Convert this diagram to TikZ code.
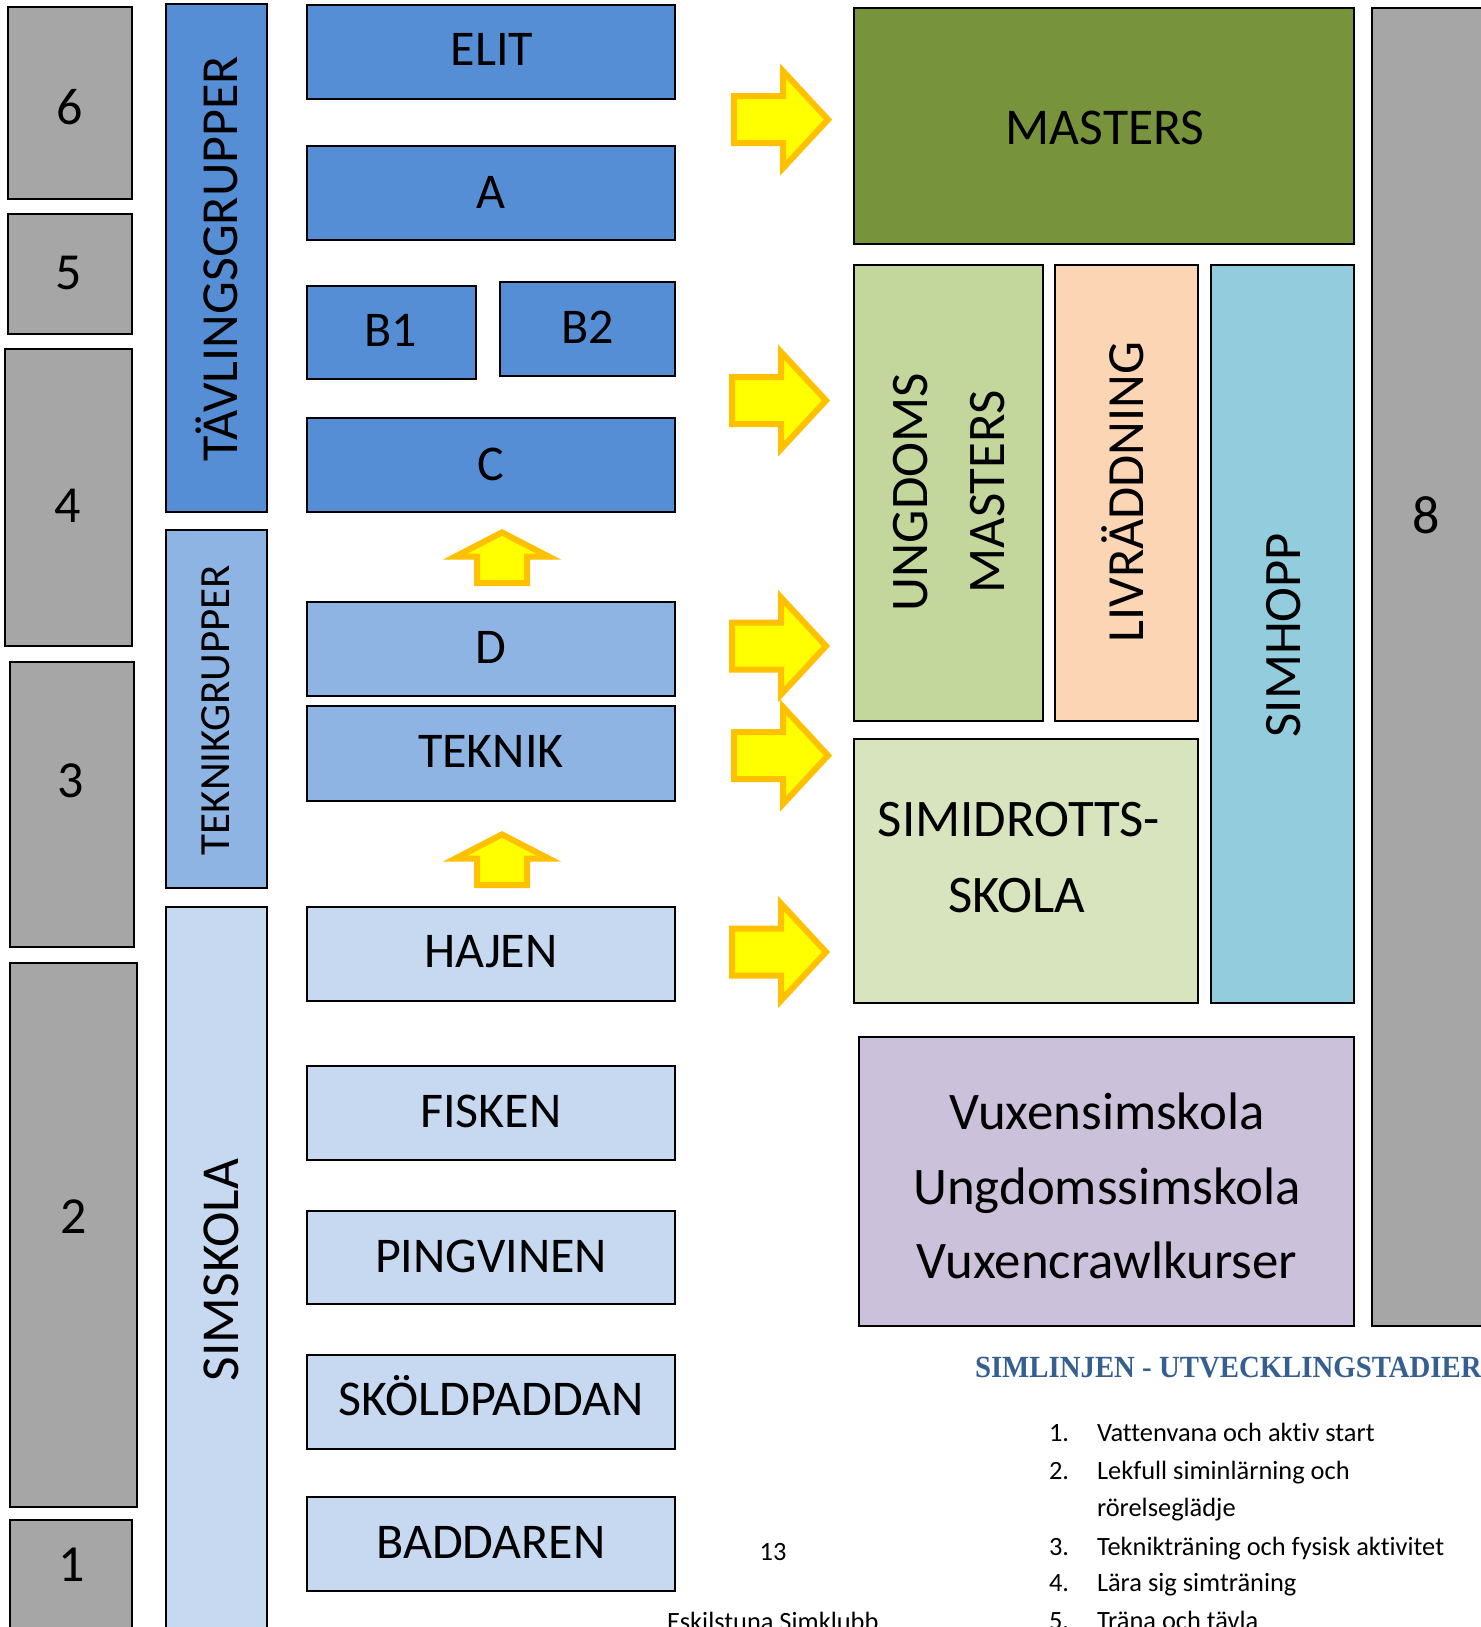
\documentclass[tikz,border=0pt]{standalone}
\usepackage{fontspec}
\setmainfont{Carlito}[Ligatures=NoCommon]
\newfontfamily\headfont{Liberation Serif}
\usetikzlibrary{fit}
\definecolor{cgray}{HTML}{A6A6A6}
\definecolor{cblueA}{HTML}{558ED5}
\definecolor{cblueB}{HTML}{8EB4E3}
\definecolor{cblueC}{HTML}{C6D9F1}
\definecolor{cmast}{HTML}{77933C}
\definecolor{cung}{HTML}{C3D69B}
\definecolor{cliv}{HTML}{FCD5B5}
\definecolor{chopp}{HTML}{93CDDD}
\definecolor{csimi}{HTML}{D7E4BD}
\definecolor{cvux}{HTML}{CCC1DA}
\definecolor{chead}{HTML}{365F91}
\definecolor{ayel}{HTML}{FFFF00}
\definecolor{aorg}{HTML}{FFC000}
\newcommand\fs[1]{\fontsize{#1}{#1}\selectfont}
\newcommand\rarr[2]{\draw[yarr,shift={(#1,#2)}] (0,-23.5) -- (49,-23.5) -- (49,-48.5) -- (94,0) -- (49,48.5) -- (49,23.5) -- (0,23.5) -- cycle;}
\newcommand\uarr[2]{\draw[yarr,shift={(#1,#2)}] (-25,0) -- (-25,-26.5) -- (-46.6,-26.5) -- (0,-50.6) -- (46.6,-26.5) -- (25,-26.5) -- (25,0) -- cycle;}
\begin{document}
\begin{tikzpicture}[x=0.5pt,y=-0.5pt,
  bx/.style={draw=black, line width=1pt, inner sep=0pt, outer sep=0pt},
  lbl/.style={inner sep=0pt, outer sep=0pt, anchor=base},
  big/.style={font=\fs{25}},
  yarr/.style={fill=ayel, draw=aorg, line width=3pt, line join=miter, miter limit=20}]
\useasboundingbox (0,0) rectangle (1481,1627);
\clip (0,0) rectangle (1481,1627);
\fill[white] (0,0) rectangle (1481,1627);

% grey level boxes
\node[bx, fill=cgray, fit={(8,7) (132,199)}] (g6) {};
\node[bx, fill=cgray, fit={(8,214) (132,334)}] (g5) {};
\node[bx, fill=cgray, fit={(5,349) (132,646)}] (g4) {};
\node[bx, fill=cgray, fit={(10,662) (134,947)}] (g3) {};
\node[bx, fill=cgray, fit={(10,963) (137,1507)}] (g2) {};
\node[bx, fill=cgray, fit={(10,1520) (132,1650)}] (g1) {};
\node[bx, fill=cgray, fit={(1372,8) (1495,1326)}] (g8) {};
\node[lbl, font=\fs{26}] (g6t) at (70,125) {6};
\node[lbl, font=\fs{26}] (g5t) at (69,289) {5};
\node[lbl, font=\fs{26}] (g4t) at (68,522) {4};
\node[lbl, font=\fs{26}] (g3t) at (71,797) {3};
\node[lbl, font=\fs{26}] (g2t) at (74,1233) {2};
\node[lbl, font=\fs{26}] (g1t) at (72,1581) {1};
\node[lbl, font=\fs{27}] (g8t) at (1426,533) {8};

% vertical group bars
\node[bx, fill=cblueA, fit={(166,4) (267,512)}] (tavl) {};
\node[bx, fill=cblueB, fit={(166,530) (267,888)}] (tekg) {};
\node[bx, fill=cblueC, fit={(166,907) (267,1650)}] (simsk) {};
\node[lbl, rotate=90, font=\fs{26}] (tavlt) at (237,259) {TÄVLINGSGRUPPER};
\node[lbl, rotate=90, font=\fs{21.5}] (tekgt) at (229,710) {TEKNIKGRUPPER};
\node[lbl, rotate=90, font=\fs{26.7}] (simskt) at (238,1270) {SIMSKOLA};

% group boxes
\node[bx, fill=cblueA, fit={(307,5) (675,99)}] (elit) {};
\node[bx, fill=cblueA, fit={(307,146) (675,240)}] (a) {};
\node[bx, fill=cblueA, fit={(307,286) (476,379)}] (b1) {};
\node[bx, fill=cblueA, fit={(500,282) (675,376)}] (b2) {};
\node[bx, fill=cblueA, fit={(307,418) (675,512)}] (c) {};
\node[bx, fill=cblueB, fit={(307,602) (675,696)}] (d) {};
\node[bx, fill=cblueB, fit={(307,706) (675,801)}] (teknik) {};
\node[bx, fill=cblueC, fit={(307,907) (675,1001)}] (hajen) {};
\node[bx, fill=cblueC, fit={(307,1066) (675,1160)}] (fisken) {};
\node[bx, fill=cblueC, fit={(307,1211) (675,1304)}] (ping) {};
\node[bx, fill=cblueC, fit={(307,1355) (675,1449)}] (skold) {};
\node[bx, fill=cblueC, fit={(307,1497) (675,1591)}] (badd) {};
\node[lbl, big] (elitt) at (492,66) {ELIT};
\node[lbl, big] (at) at (491,208) {A};
\node[lbl, big] (b1t) at (391,346) {B1};
\node[lbl, big] (b2t) at (588,343) {B2};
\node[lbl, big] (ct) at (491,480) {C};
\node[lbl, big] (dt) at (491,663) {D};
\node[lbl, big] (teknikt) at (491,767) {TEKNIK};
\node[lbl, big] (hajent) at (491,967) {HAJEN};
\node[lbl, big] (fiskent) at (491,1127) {FISKEN};
\node[lbl, big] (pingt) at (491,1272) {PINGVINEN};
\node[lbl, big] (skoldt) at (491,1415) {SKÖLDPADDAN};
\node[lbl, big] (baddt) at (491,1558) {BADDAREN};

% up arrows
\uarr{502}{583}
\uarr{502}{885}

% right arrows
\rarr{734}{119.6}
\rarr{732}{400.5}
\rarr{732}{646}
\rarr{734}{755.5}
\rarr{732}{952}

% right-hand boxes
\node[bx, fill=cmast, fit={(854,8) (1354,244)}] (masters) {};
\node[bx, fill=cung, fit={(854,265) (1043,721)}] (ungd) {};
\node[bx, fill=cliv, fit={(1055,265) (1198,721)}] (livr) {};
\node[bx, fill=chopp, fit={(1211,265) (1354,1003)}] (simhopp) {};
\node[bx, fill=csimi, fit={(854,739) (1198,1003)}] (simidr) {};
\node[bx, fill=cvux, fit={(859,1037) (1354,1326)}] (vuxen) {};
\node[lbl, font=\fs{25.8}] (masterst) at (1105,145) {MASTERS};
\node[lbl, rotate=90, font=\fs{26.4}] (ungdt1) at (927,492) {UNGDOMS};
\node[lbl, rotate=90, font=\fs{26.4}] (ungdt2) at (1004,492) {MASTERS};
\node[lbl, rotate=90, font=\fs{26.1}] (livrt) at (1143,492) {LIVRÄDDNING};
\node[lbl, rotate=90, font=\fs{26.3}] (simhoppt) at (1300,635) {SIMHOPP};
\node[lbl, font=\fs{26.4}] (simidrt1) at (1019,836) {SIMIDROTTS-};
\node[lbl, font=\fs{26.4}] (simidrt2) at (1017,912) {SKOLA};
\node[lbl, font=\fs{26.4}] (vuxt1) at (1107,1129) {Vuxensimskola};
\node[lbl, font=\fs{26.4}] (vuxt2) at (1107,1204) {Ungdomssimskola};
\node[lbl, font=\fs{26.4}] (vuxt3) at (1107,1278) {Vuxencrawlkurser};

% heading and list
\node[lbl, anchor=base west, text=chead] (head) at (975,1377) {\headfont\bfseries\fs{15.4}\scalebox{0.935}[1]{SIMLINJEN - UTVECKLINGSTADIER}};
\node[lbl, anchor=base west, font=\fs{13.2}] (n1) at (1049,1441.7) {1.};
\node[lbl, anchor=base west, font=\fs{13.2}] (i1) at (1097,1441.7) {Vattenvana och aktiv start};
\node[lbl, anchor=base west, font=\fs{13.2}] (n2) at (1049,1479) {2.};
\node[lbl, anchor=base west, font=\fs{13.2}] (i2) at (1097,1479) {Lekfull siminlärning och};
\node[lbl, anchor=base west, font=\fs{13.2}] (i2b) at (1097,1516.7) {rörelseglädje};
\node[lbl, anchor=base west, font=\fs{13.2}] (n3) at (1049,1555) {3.};
\node[lbl, anchor=base west, font=\fs{13.2}] (i3) at (1097,1555) {Teknikträning och fysisk aktivitet};
\node[lbl, anchor=base west, font=\fs{13.2}] (n4) at (1049,1591.7) {4.};
\node[lbl, anchor=base west, font=\fs{13.2}] (i4) at (1097,1591.7) {Lära sig simträning};
\node[lbl, anchor=base west, font=\fs{13.2}] (n5) at (1049,1629) {5.};
\node[lbl, anchor=base west, font=\fs{13.2}] (i5) at (1097,1629) {Träna och tävla};

% page footer
\node[lbl, font=\fs{13.2}] (page) at (773,1560) {13};
\node[lbl, anchor=base west, font=\fs{13.2}] (club) at (667,1630) {Eskilstuna Simklubb};
\end{tikzpicture}
\end{document}
